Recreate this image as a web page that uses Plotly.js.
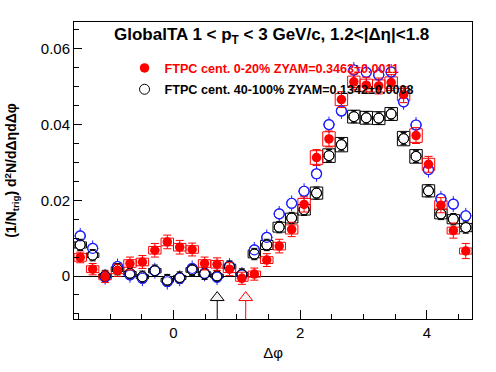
<!DOCTYPE html>
<html>
<head>
<meta charset="utf-8">
<script src="https://cdn.plot.ly/plotly-3.0.1.min.js"></script>
<style>html,body{margin:0;padding:0;background:#fff;}#chart{width:496px;height:372px;}</style>
</head>
<body>
<div id="chart"></div>
<script>
// ---- data ----
const nBins = 32;
const phiMin = -Math.PI / 2, phiMax = 3 * Math.PI / 2;
const binWidth = (phiMax - phiMin) / nBins;
const phi = Array.from({length: nBins}, (_, i) => phiMin + (i + 0.5) * binWidth);

// FTPC cent. 0-20% (red, filled)
const central = [0.0049,0.0018,-0.0002,0.0015,0.0033,0.0037,0.0068,0.0090,0.0076,0.0070,0.0033,0.0031,0.0018,-0.0006,0.0005,0.0042,0.0079,0.0123,0.0189,0.0313,0.0362,0.0466,0.0513,0.0504,0.0502,0.0511,0.0479,0.0371,0.0295,0.0187,0.0120,0.0066];
const centralErr = [0.0014,0.0015,0.0015,0.0016,0.0017,0.0017,0.0018,0.0018,0.0018,0.0017,0.0017,0.0017,0.0017,0.0016,0.0016,0.0017,0.0018,0.0019,0.0020,0.0021,0.0021,0.0021,0.0021,0.0021,0.0021,0.0021,0.0021,0.0021,0.0021,0.0020,0.0020,0.0020];
const centralSys = [0.0010,0.0009,0.0008,0.0009,0.0010,0.0010,0.0010,0.0010,0.0010,0.0010,0.0010,0.0010,0.0009,0.0008,0.0008,0.0009,0.0010,0.0012,0.0016,0.0018,0.0019,0.0016,0.0015,0.0016,0.0016,0.0015,0.0016,0.0018,0.0016,0.0012,0.0009,0.0008];

// FTPC cent. 40-100% (black, open)
const peripheral = [0.0082,0.0055,0.0000,0.0018,0.0007,-0.0002,0.0014,-0.0011,-0.0004,0.0016,0.0006,0.0000,0.0025,0.0004,0.0058,0.0082,0.0129,0.0153,0.0175,0.0219,0.0318,0.0347,0.0421,0.0418,0.0417,0.0428,0.0363,0.0316,0.0225,0.0164,0.0150,0.0128];
const peripheralErr = [0.0015,0.0015,0.0015,0.0015,0.0015,0.0015,0.0015,0.0015,0.0015,0.0015,0.0015,0.0015,0.0015,0.0015,0.0015,0.0015,0.0015,0.0015,0.0015,0.0016,0.0016,0.0016,0.0016,0.0016,0.0016,0.0016,0.0016,0.0016,0.0016,0.0015,0.0015,0.0015];
const peripheralSys = [0.0008,0.0006,0.0005,0.0006,0.0005,0.0005,0.0006,0.0005,0.0005,0.0006,0.0005,0.0005,0.0006,0.0005,0.0010,0.0012,0.0013,0.0013,0.0014,0.0016,0.0018,0.0019,0.0017,0.0017,0.0017,0.0017,0.0019,0.0018,0.0016,0.0013,0.0012,0.0011];

// third set (blue, open, no legend)
const other = [0.0106,0.0073,-0.0002,0.0025,0.0003,-0.0006,0.0014,-0.0015,-0.0006,0.0020,0.0007,-0.0003,0.0026,0.0003,0.0069,0.0102,0.0164,0.0192,0.0224,0.0270,0.0400,0.0436,0.0544,0.0538,0.0531,0.0539,0.0460,0.0399,0.0281,0.0204,0.0190,0.0159];
const otherErr = [0.0021,0.0021,0.0021,0.0021,0.0021,0.0021,0.0021,0.0021,0.0021,0.0021,0.0021,0.0021,0.0021,0.0021,0.0021,0.0021,0.0021,0.0021,0.0021,0.0021,0.0021,0.0021,0.0021,0.0021,0.0021,0.0021,0.0021,0.0021,0.0021,0.0021,0.0021,0.0021];
const otherErrX = 0.09;

// arrow markers at bottom
const arrowPhi = [0.69, 1.14];
const arrowColor = ['#000000', '#ff0000'];
const arrowHead = -0.0057;
const arrowTop = -0.0065;
const arrowBottom = -0.0114;

const legendCentral = 'FTPC cent. 0-20% ZYAM=0.3463±0.0011';
const legendPeripheral = 'FTPC cent. 40-100% ZYAM=0.1342±0.0008';
const titleText = 'GlobalTA 1 &lt; p<sub>T</sub> &lt; 3 GeV/c, 1.2&lt;|Δη|&lt;1.8';
const yTitle = '(1/N<sub>trig</sub>) d<sup>2</sup>N/dΔηdΔφ';
const xTitle = 'Δφ';

const FONT = 'Liberation Sans, Arial, Helvetica, sans-serif';
const BLUE = '#1f1fff';

function sysBoxes(vals, sys, color) {
  return {
    type: 'bar', x: phi,
    y: sys.map(s => 2 * s),
    base: vals.map((v, i) => v - sys[i]),
    width: binWidth,
    marker: {color: 'rgba(0,0,0,0)', line: {color: color, width: 1}},
    showlegend: false, hoverinfo: 'skip'
  };
}

const traces = [];
// blue: error crosses with white-filled circles (hides the lines inside)
traces.push({
  type: 'scatter', mode: 'markers', x: phi, y: other, showlegend: false, hoverinfo: 'skip',
  marker: {symbol: 'circle', size: 10, color: '#ffffff', line: {width: 1.1, color: BLUE}},
  error_y: {type: 'data', array: otherErr, color: BLUE, thickness: 1, width: 0},
  error_x: {type: 'constant', value: otherErrX, color: BLUE, thickness: 1, width: 0}
});
// black: error bars with white-filled circles
traces.push({
  type: 'scatter', mode: 'markers', x: phi, y: peripheral, showlegend: false, hoverinfo: 'skip',
  marker: {symbol: 'circle', size: 10, color: '#ffffff', line: {width: 1, color: '#000000'}},
  error_y: {type: 'data', array: peripheralErr, color: '#000000', thickness: 1, width: 3}
});
traces.push(sysBoxes(peripheral, peripheralSys, '#000000'));
// outlines redrawn on top so overlapping circles stay visible
traces.push({
  type: 'scatter', mode: 'markers', x: phi, y: other, showlegend: false, hoverinfo: 'skip',
  marker: {symbol: 'circle-open', size: 10, color: BLUE, line: {width: 1.1}}
});
traces.push({
  type: 'scatter', mode: 'markers', x: phi, y: peripheral,
  name: '<b>' + legendPeripheral + '</b>', legendrank: 2, legendgroup: 'b',
  marker: {symbol: 'circle-open', size: 10, color: '#000000', line: {width: 1}}
});
traces.push(sysBoxes(central, centralSys, '#ff0000'));
traces.push({
  type: 'scatter', mode: 'markers', x: phi, y: central,
  name: '<span style="color:#ff0000"><b>' + legendCentral + '</b></span>', legendrank: 1, legendgroup: 'a',
  marker: {symbol: 'circle', size: 9.5, color: '#ff0000'},
  error_y: {type: 'data', array: centralErr, color: '#ff0000', thickness: 1, width: 4}
});
arrowPhi.forEach((p, i) => {
  traces.push({
    type: 'scatter', mode: 'lines', x: [p, p], y: [arrowTop, arrowBottom],
    line: {color: arrowColor[i], width: 1}, showlegend: false, hoverinfo: 'skip'
  });
  traces.push({
    type: 'scatter', mode: 'markers', x: [p], y: [arrowHead],
    marker: {symbol: 'triangle-up', size: 12, color: '#f2f2f2', line: {color: arrowColor[i], width: 1}},
    showlegend: false, hoverinfo: 'skip'
  });
});

const layout = {
  width: 496, height: 372,
  margin: {l: 74, r: 24, t: 22, b: 53},
  paper_bgcolor: '#ffffff', plot_bgcolor: '#ffffff',
  font: {family: FONT, color: '#000000', size: 15},
  barmode: 'overlay',
  showlegend: true,
  legend: {
    x: 0.127, y: 0.895, xanchor: 'left', yanchor: 'top',
    bgcolor: 'rgba(0,0,0,0)', borderwidth: 0,
    font: {family: FONT, size: 12.6, color: '#000000'},
    tracegroupgap: 2, itemwidth: 30
  },
  xaxis: {
    range: [phiMin, phiMax], tick0: 0, dtick: 2,
    ticks: 'inside', ticklen: 9, tickwidth: 1, tickcolor: '#000',
    minor: {dtick: 0.5, tick0: 0, ticks: 'inside', ticklen: 5, tickcolor: '#000', showgrid: false},
    showline: true, linecolor: '#000', linewidth: 1, mirror: true,
    showgrid: false, zeroline: false,
    tickfont: {size: 15},
    title: {text: xTitle, font: {size: 15}, standoff: 7}
  },
  yaxis: {
    range: [-0.01136, 0.0671], tick0: 0, dtick: 0.02,
    ticks: 'inside', ticklen: 8, tickwidth: 1, tickcolor: '#000',
    minor: {dtick: 0.005, tick0: 0, ticks: 'inside', ticklen: 5, tickcolor: '#000', showgrid: false},
    showline: true, linecolor: '#000', linewidth: 1, mirror: true,
    showgrid: false, zeroline: true, zerolinecolor: '#000', zerolinewidth: 1,
    tickfont: {size: 15},
    title: {text: '<b>' + yTitle + '</b>', font: {size: 14}, standoff: 20}
  },
  annotations: [{
    xref: 'paper', yref: 'paper', x: 0.497, y: 0.952, xanchor: 'center', yanchor: 'middle',
    text: '<b>' + titleText + '</b>', showarrow: false, font: {size: 17, family: FONT}
  }]
};

Plotly.newPlot('chart', traces, layout, {staticPlot: true, displayModeBar: false});
</script>
</body>
</html>
